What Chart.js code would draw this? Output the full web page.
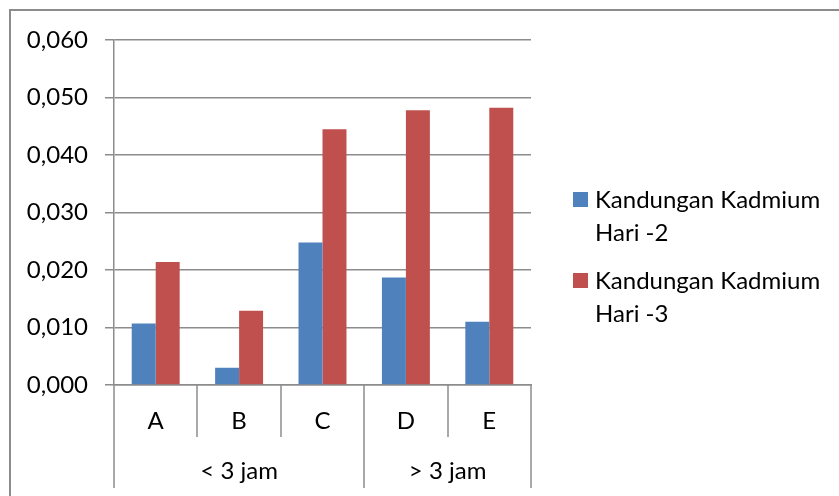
<!DOCTYPE html>
<html>
<head>
<meta charset="utf-8">
<script src="https://cdn.jsdelivr.net/npm/chart.js@4.4.1/dist/chart.umd.min.js"></script>
<style>
  html, body { margin: 0; padding: 0; background: #fff; }
  #wrap { width: 839px; height: 496px; }
</style>
</head>
<body>
<div id="wrap"><canvas id="c" width="839" height="496"></canvas></div>
<script>
// Sampel A–E, dikelompokkan menurut lama waktu
const categories = ['A', 'B', 'C', 'D', 'E'];
const groupLabels = ['< 3 jam', '> 3 jam'];
const groupSizes = [3, 2];

// Kandungan kadmium per hari pengamatan
const hari2 = [0.0107, 0.0030, 0.0248, 0.0187, 0.0110];
const hari3 = [0.0214, 0.0129, 0.0445, 0.0478, 0.0482];

// Nama seri, dipecah per baris untuk legenda
const seriesLines = [
  ['Kandungan Kadmium', 'Hari -2'],
  ['Kandungan Kadmium', 'Hari -3']
];
const seriesColors = ['#4F81BD', '#C0504D'];

const yMin = 0, yMax = 0.06, yStep = 0.01;

const FONT = 'Lato, "Noto Sans", sans-serif';
const GRID = '#8c8c8c';

// Sumbu kategori bertingkat, bingkai, dan legenda
const extrasPlugin = {
  id: 'extras',
  afterDraw(chart) {
    const ctx = chart.ctx;
    const x = chart.scales.x;
    const area = chart.chartArea;
    const n = categories.length;
    const w = (x.right - x.left) / n;
    const edge = i => x.getPixelForValue(i) - w / 2;

    ctx.save();
    ctx.strokeStyle = GRID;
    ctx.lineWidth = 1.5;

    // batas antar kategori dan antar kelompok
    const groupEdges = [0];
    groupSizes.reduce((acc, s) => { groupEdges.push(acc + s); return acc + s; }, 0);
    for (let i = 0; i <= n; i++) {
      const px = Math.round(edge(i));
      const full = groupEdges.includes(i);
      ctx.beginPath();
      ctx.moveTo(px, area.bottom);
      ctx.lineTo(px, full ? 488 : 437);
      ctx.stroke();
    }

    // label kelompok
    ctx.fillStyle = '#000';
    ctx.font = '24px ' + FONT;
    ctx.textAlign = 'center';
    ctx.textBaseline = 'middle';
    let start = 0;
    groupLabels.forEach((g, k) => {
      const end = start + groupSizes[k];
      ctx.fillText(g, (edge(start) + edge(end)) / 2, 471);
      start = end;
    });

    // bingkai luar
    ctx.strokeStyle = GRID;
    ctx.lineWidth = 2;
    ctx.beginPath();
    ctx.moveTo(10, 500);
    ctx.lineTo(10, 10);
    ctx.lineTo(845, 10);
    ctx.stroke();

    // legenda
    ctx.textAlign = 'left';
    ctx.textBaseline = 'alphabetic';
    let top = 192;
    chart.data.datasets.forEach((ds, i) => {
      ctx.fillStyle = ds.backgroundColor;
      ctx.fillRect(573, top, 15, 15);
      ctx.fillStyle = '#000';
      seriesLines[i].forEach((line, j) => {
        ctx.fillText(line, 595, top + 16 + j * 33);
      });
      top += 81;
    });
    ctx.restore();
  }
};

new Chart(document.getElementById('c'), {
  type: 'bar',
  data: {
    labels: categories,
    datasets: [
      { label: seriesLines[0].join(' '), data: hari2, backgroundColor: seriesColors[0] },
      { label: seriesLines[1].join(' '), data: hari3, backgroundColor: seriesColors[1] }
    ]
  },
  options: {
    responsive: false,
    animation: false,
    devicePixelRatio: 1,
    layout: { padding: { left: 0, top: 40, right: 308, bottom: 0 } },
    datasets: { bar: { categoryPercentage: 0.575, barPercentage: 1, borderWidth: 0 } },
    plugins: { legend: { display: false }, tooltip: { enabled: false } },
    scales: {
      x: {
        afterFit(s) { s.height = 111; },
        grid: { display: true, drawOnChartArea: false, drawTicks: false, color: GRID },
        border: { display: true, color: GRID, width: 1.5 },
        ticks: { color: '#000', font: { family: FONT, size: 24 }, padding: 22, maxRotation: 0 }
      },
      y: {
        min: yMin, max: yMax,
        afterFit(s) { s.width = 114; },
        grid: { color: GRID, lineWidth: 1.5, tickLength: 9 },
        border: { display: true, color: GRID, width: 1.5 },
        ticks: {
          stepSize: yStep,
          color: '#000',
          font: { family: FONT, size: 24 },
          padding: 17,
          callback: v => v.toFixed(3).replace('.', ',')
        }
      }
    }
  },
  plugins: [extrasPlugin]
});
</script>
</body>
</html>
